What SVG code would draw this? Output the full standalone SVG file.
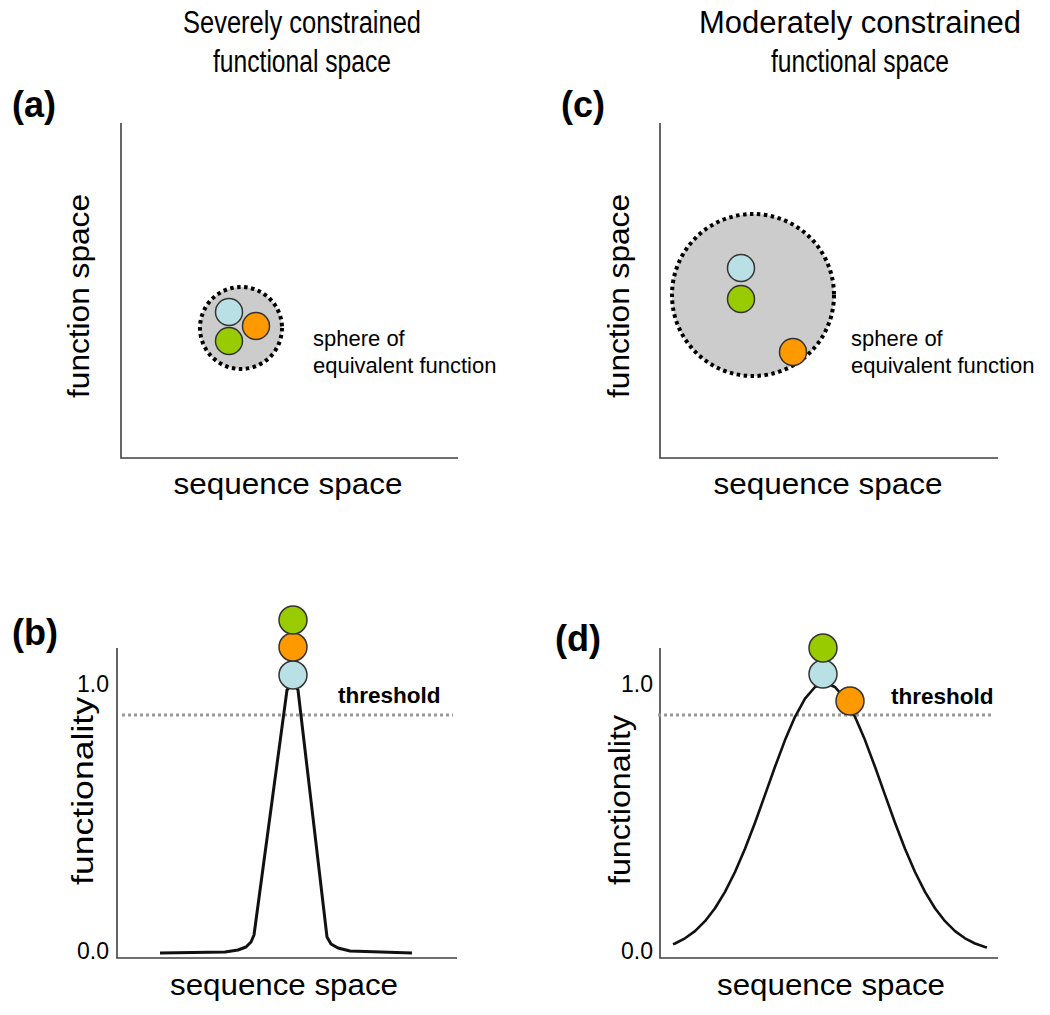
<svg xmlns="http://www.w3.org/2000/svg" width="1050" height="1015" viewBox="0 0 1050 1015">
<defs>
<style>
text{font-family:"Liberation Sans",Arial,sans-serif;fill:#000}
.title{font-size:31px;text-anchor:middle}
.plab{font-size:36px;font-weight:bold}
.ax{font-size:30px;text-anchor:middle}
.note{font-size:22px}
.tick{font-size:23px;text-anchor:end}
.thr{font-size:22.5px;font-weight:bold}
.axis{fill:none;stroke:#404040;stroke-width:1.6}
.sphere{fill:#cccccc;stroke:#000;stroke-width:4;stroke-dasharray:3.5 3.5}
.thline{stroke:#999;stroke-width:3;stroke-dasharray:3 3;fill:none}
.curve{fill:none;stroke:#111;stroke-width:3;stroke-linejoin:round}
.dot{stroke:#333;stroke-width:1.5}
.blue{fill:#b9e0e4}
.green{fill:#99cc00}
.orange{fill:#ff9900}
</style>
</defs>
<rect width="1050" height="1015" fill="#fff"/>

<g id="titles">
<text class="title" x="302" y="33" textLength="238" lengthAdjust="spacingAndGlyphs">Severely constrained</text>
<text class="title" x="302" y="72" textLength="178" lengthAdjust="spacingAndGlyphs">functional space</text>
<text class="title" x="860" y="33" textLength="322" lengthAdjust="spacingAndGlyphs">Moderately constrained</text>
<text class="title" x="860" y="72" textLength="178" lengthAdjust="spacingAndGlyphs">functional space</text>
</g>

<g id="panel-a">
<text class="plab" x="12" y="117">(a)</text>
<path class="axis" d="M121,123 V458 H458"/>
<text class="ax" transform="translate(89,296) rotate(-90)" x="0" y="0" textLength="204" lengthAdjust="spacingAndGlyphs">function space</text>
<text class="ax" x="288" y="494" textLength="229" lengthAdjust="spacingAndGlyphs">sequence space</text>
<circle class="sphere" cx="241" cy="328" r="41"/>
<circle class="dot blue" cx="229" cy="312" r="13.5"/>
<circle class="dot green" cx="229" cy="341" r="13.5"/>
<circle class="dot orange" cx="256" cy="326" r="13.5"/>
<text class="note" x="313" y="346">sphere of</text>
<text class="note" x="313" y="373">equivalent function</text>
</g>

<g id="panel-c">
<text class="plab" x="561" y="117">(c)</text>
<path class="axis" d="M660,123 V458 H998"/>
<text class="ax" transform="translate(629,296) rotate(-90)" x="0" y="0" textLength="204" lengthAdjust="spacingAndGlyphs">function space</text>
<text class="ax" x="828" y="494" textLength="229" lengthAdjust="spacingAndGlyphs">sequence space</text>
<circle class="sphere" cx="753" cy="295" r="81"/>
<circle class="dot blue" cx="741" cy="268" r="13.5"/>
<circle class="dot green" cx="741" cy="299" r="13.5"/>
<circle class="dot orange" cx="793" cy="352" r="13.5"/>
<text class="note" x="851" y="346">sphere of</text>
<text class="note" x="851" y="373">equivalent function</text>
</g>

<g id="panel-b">
<text class="plab" x="12" y="645">(b)</text>
<path class="axis" d="M117,648 V958 H457"/>
<text class="tick" x="109" y="692">1.0</text>
<text class="tick" x="109" y="959">0.0</text>
<text class="ax" transform="translate(93,791) rotate(-90)" x="0" y="0" textLength="188" lengthAdjust="spacingAndGlyphs">functionality</text>
<text class="ax" x="284" y="995" textLength="228" lengthAdjust="spacingAndGlyphs">sequence space</text>
<line class="thline" x1="122" y1="715" x2="453" y2="715"/>
<text class="thr" x="338" y="703">threshold</text>
<path class="curve" d="M160,953 L225,952 L238,950 L246,947 L251,942 L254,935 L287,690 L293,682 L298,690 L327,937 L331,944 L338,948 L350,951 L412,953"/>
<circle class="dot blue" cx="293" cy="675" r="14"/>
<circle class="dot orange" cx="293" cy="647" r="14"/>
<circle class="dot green" cx="293" cy="620" r="14"/>
</g>

<g id="panel-d">
<text class="plab" x="555" y="651">(d)</text>
<path class="axis" d="M660,648 V958 H998"/>
<text class="tick" x="653" y="692">1.0</text>
<text class="tick" x="653" y="959">0.0</text>
<text class="ax" transform="translate(630,800) rotate(-90)" x="0" y="0" textLength="170" lengthAdjust="spacingAndGlyphs">functionality</text>
<text class="ax" x="831" y="995" textLength="228" lengthAdjust="spacingAndGlyphs">sequence space</text>
<line class="thline" x1="658" y1="715" x2="993" y2="715"/>
<text class="thr" x="891" y="704">threshold</text>
<polyline class="curve" style="stroke-width:2.6" points="673,944.3 675,943.5 685,938.3 695,931.1 705,921.2 715,908.3 725,891.9 735,872 745,848.7 755,822.7 765,794.9 775,766.8 785,740.1 795,716.8 805,698.6 815,687 825,683 835,687 845,698.6 855,716.8 865,740.1 875,766.8 885,794.9 895,822.7 905,848.7 915,872 925,891.9 935,908.3 945,921.2 955,931.1 965,938.3 975,943.5 985,947 987,947.5"/>
<circle class="dot blue" cx="823" cy="674" r="14"/>
<circle class="dot green" cx="823" cy="648" r="14"/>
<circle class="dot orange" cx="850" cy="701" r="14"/>
</g>
</svg>
